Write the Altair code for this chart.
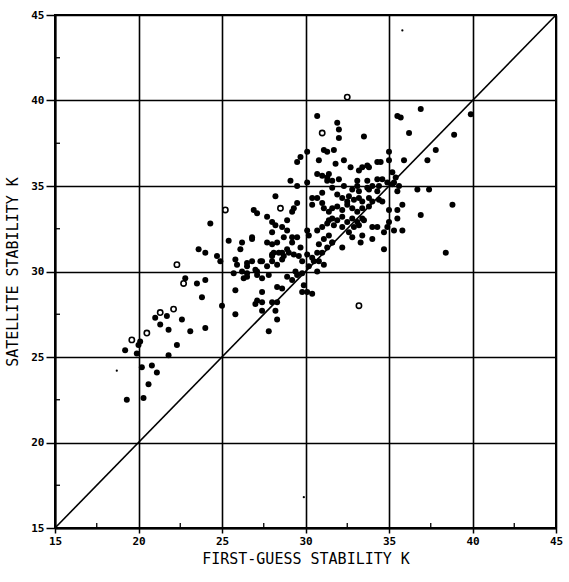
import altair as alt
import pandas as pd

# Filled observations (first-guess stability K, satellite stability K)
filled_x = [25.4,26.2,23.6,24.0,24.7,26.1,25.8,25.9,24.9,26.5,25.7,26.2,26.3,22.8,23.5,24.0,25.8,23.8,25.0,25.8,
            21.0,21.7,22.6,21.3,21.8,23.1,24.0,20.1,20.0,19.2,19.9,22.3,21.8,20.2,20.8,21.1,20.6,19.3,20.3,
            24.3,26.9,27.1,26.8,26.8,26.5,30.7,31.1,31.3,31.7,30.1,29.7,29.5,30.8,30.7,31.0,31.3,31.4,31.3,31.6,
            29.1,30.1,29.5,28.2,30.4,30.7,31.0,29.5,29.3,29.2,31.0,31.1,31.4,30.4,27.7,28.0,28.2,28.9,31.4,31.3,
            31.0,30.7,30.1,30.2,28.6,28.9,28.0,27.7,28.0,28.3,29.5,29.2,28.9,28.6,28.1,28.0,28.3,28.6,29.3,29.6,
            29.8,30.1,30.4,30.5,30.2,30.8,31.0,31.3,31.6,31.4,31.1,30.8,31.1,27.4,27.7,27.1,27.4,27.8,28.9,29.2,
            29.5,29.8,30.7,28.3,28.6,27.4,29.9,30.1,28.0,28.4,29.0,30.7,26.5,27.0,27.1,29.4,29.8,30.4,27.1,27.0,
            27.4,28.0,28.3,27.4,28.2,28.3,27.8,31.9,32.0,32.0,33.5,32.3,26.8,28.7,29.2,28.7,28.0,27.3,26.5,29.7,
            35.5,35.7,36.2,31.8,35.0,32.7,33.2,33.4,33.7,33.8,34.3,34.5,35.0,35.9,35.2,32.0,33.1,33.7,34.3,34.6,
            34.9,35.3,35.6,35.5,31.6,32.3,32.8,33.1,33.2,33.7,33.8,34.0,34.3,34.4,31.9,32.6,33.8,32.2,32.5,32.9,
            33.2,33.4,34.0,34.4,31.6,31.9,32.2,32.5,32.8,33.1,33.4,33.8,31.6,31.9,32.2,32.5,32.8,33.1,33.4,33.5,
            31.7,32.2,32.6,32.9,33.2,32.8,33.4,33.3,31.6,32.2,34.0,34.3,34.0,34.7,34.7,35.0,35.5,35.8,35.0,35.5,
            34.9,35.3,35.8,36.9,38.9,37.8,37.3,39.9,35.4,35.2,36.7,37.4,34.6,38.8,36.9,38.4]
filled_y = [31.8,31.7,31.3,31.1,30.9,31.3,30.7,30.4,30.6,30.3,29.9,30.0,29.6,29.6,29.3,29.5,28.9,28.5,28.0,27.5,
            27.3,27.4,27.2,26.9,26.6,26.5,26.7,25.9,25.7,25.4,25.2,25.7,25.1,24.4,24.5,24.1,23.4,22.5,22.6,
            32.8,33.6,33.4,31.9,30.6,29.9,39.1,37.1,37.0,37.1,37.0,36.7,36.4,36.5,35.7,35.6,35.5,35.7,35.3,35.3,
            35.3,35.2,35.0,34.4,34.3,34.3,34.6,34.0,33.7,33.5,34.0,33.7,33.5,33.9,33.2,32.9,32.7,33.0,33.0,32.8,
            32.6,32.4,32.4,32.1,32.6,32.4,32.3,31.7,31.6,31.7,32.0,32.0,31.3,31.1,31.1,30.6,30.4,30.7,31.0,30.9,
            30.6,31.0,30.8,30.6,30.3,31.6,31.1,31.4,31.7,32.1,31.9,30.6,30.4,30.6,30.3,30.0,29.6,29.8,29.7,29.5,
            29.8,29.9,30.0,29.1,29.0,28.8,29.2,28.8,31.0,31.1,31.1,31.1,29.7,30.1,29.8,30.0,28.8,28.7,28.3,28.1,
            28.2,28.2,28.2,27.7,27.7,27.2,26.5,38.7,38.3,37.8,37.9,36.5,32.0,32.0,31.7,30.9,30.9,30.6,30.5,31.4,
            39.1,39.0,38.1,36.3,37.0,36.1,35.9,36.1,36.2,36.1,36.4,36.4,36.5,36.5,35.8,35.4,35.3,35.3,35.4,35.4,
            35.2,35.2,35.0,34.7,34.9,35.0,34.8,35.0,34.7,34.9,34.8,35.0,34.7,35.0,34.5,34.4,34.3,34.3,34.1,34.2,
            34.3,34.1,34.1,34.2,33.7,33.8,33.6,33.9,33.7,33.5,33.7,33.8,33.1,33.0,33.2,32.9,33.1,32.9,33.1,33.0,
            32.7,32.6,32.3,32.6,32.7,32.0,32.1,31.7,31.7,31.4,32.6,32.6,31.9,32.3,31.3,33.6,33.6,33.9,32.9,33.1,
            32.6,32.4,32.4,39.5,38.0,37.1,36.5,39.2,35.5,35.1,34.8,34.8,34.1,33.9,33.3,31.1]

# Open-circle observations
open_x = [22.3,22.7,21.3,22.1,20.5,19.6,25.2,31.0,28.5,33.2,32.5]
open_y = [30.4,29.3,27.6,27.8,26.4,26.0,33.6,38.1,33.7,28.0,40.2]

# Tiny specks
speck_x = [18.7,35.8,29.9]
speck_y = [24.2,44.1,16.8]

major_ticks = [15, 20, 25, 30, 35, 40, 45]
minor_ticks = [17.5, 22.5, 27.5, 32.5, 37.5, 42.5]
diag = [15, 45]

W, H = 501, 513
dom = [15, 45]
xs = alt.Scale(domain=dom, nice=False, zero=False)
ys = alt.Scale(domain=dom, nice=False, zero=False)

FONT = "DejaVu Sans Mono"

xaxis = alt.Axis(values=major_ticks, title="FIRST-GUESS STABILITY  K", grid=True,
                 gridColor="black", gridWidth=1.6, gridOpacity=1,
                 domainColor="black", domainWidth=2, tickColor="black", tickWidth=1.5,
                 tickSize=5, labelPadding=2, labelFont=FONT, labelFontSize=11,
                 labelFontWeight="bold", labelColor="black", labelFlush=False,
                 titleFont=FONT, titleFontSize=15, titleFontWeight="normal",
                 titleColor="black", titlePadding=5)
yaxis = alt.Axis(values=major_ticks, title="SATELLITE STABILITY  K", grid=True,
                 gridColor="black", gridWidth=1.6, gridOpacity=1,
                 domainColor="black", domainWidth=2, tickColor="black", tickWidth=1.5,
                 tickSize=9, labelPadding=2, labelFont=FONT, labelFontSize=11,
                 labelFontWeight="bold", labelColor="black", labelFlush=False,
                 titleFont=FONT, titleFontSize=15, titleFontWeight="normal",
                 titleColor="black", titleX=-43, titleY=H / 2, titleAngle=-90,
                 titleAlign="center", titleBaseline="middle")

df_f = pd.DataFrame({"x": filled_x, "y": filled_y})
df_o = pd.DataFrame({"x": open_x, "y": open_y})
df_s = pd.DataFrame({"x": speck_x, "y": speck_y})
df_d = pd.DataFrame({"x": diag, "y": diag})
df_m = pd.DataFrame({"v": minor_ticks})

base_axes = alt.Chart(df_d).mark_line(color="black", strokeWidth=1.6).encode(
    x=alt.X("x:Q", scale=xs, axis=xaxis),
    y=alt.Y("y:Q", scale=ys, axis=yaxis),
)

filled = alt.Chart(df_f).mark_circle(color="black", size=36, opacity=1).encode(
    x=alt.X("x:Q", scale=xs), y=alt.Y("y:Q", scale=ys))

opened = alt.Chart(df_o).mark_point(shape="circle", color="black", size=28,
                                     strokeWidth=1.6, filled=False, opacity=1).encode(
    x=alt.X("x:Q", scale=xs), y=alt.Y("y:Q", scale=ys))

specks = alt.Chart(df_s).mark_circle(color="black", size=5, opacity=1).encode(
    x=alt.X("x:Q", scale=xs), y=alt.Y("y:Q", scale=ys))

minor_x = alt.Chart(df_m).mark_rule(color="black", strokeWidth=1.3).encode(
    x=alt.X("v:Q", scale=xs), y=alt.value(H), y2=alt.value(H - 5))
minor_y = alt.Chart(df_m).mark_rule(color="black", strokeWidth=1.3).encode(
    y=alt.Y("v:Q", scale=ys), x=alt.value(0), x2=alt.value(5))

chart = alt.layer(base_axes, minor_x, minor_y, filled, opened, specks).properties(
    width=W, height=H,
    autosize=alt.AutoSizeParams(type="none"),
    padding={"left": 55, "top": 15, "right": 13, "bottom": 54},
    background="white",
).configure_view(stroke="black", strokeWidth=2)

chart.save("out.html", embed_options={"renderer": "svg", "actions": False})
